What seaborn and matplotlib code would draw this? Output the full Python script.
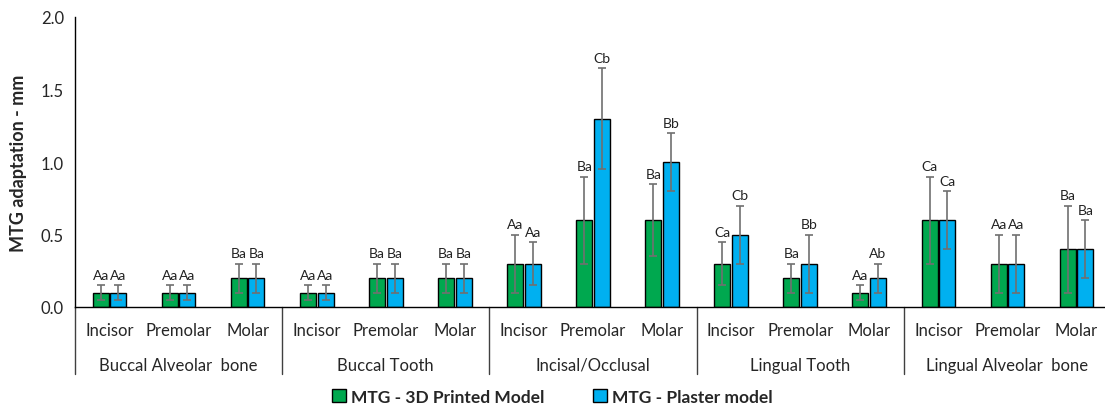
import numpy as np
import pandas as pd
import seaborn as sns
from matplotlib import pyplot as plt

# data
groups = ["Buccal Alveolar  bone", "Buccal Tooth", "Incisal/Occlusal", "Lingual Tooth", "Lingual Alveolar  bone"]
teeth = ["Incisor", "Premolar", "Molar"]
printed_vals = [0.1, 0.1, 0.2, 0.1, 0.2, 0.2, 0.3, 0.6, 0.6, 0.3, 0.2, 0.1, 0.6, 0.3, 0.4]
plaster_vals = [0.1, 0.1, 0.2, 0.1, 0.2, 0.2, 0.3, 1.3, 1.0, 0.5, 0.3, 0.2, 0.6, 0.3, 0.4]
printed_err = [0.05, 0.05, 0.1, 0.05, 0.1, 0.1, 0.2, 0.3, 0.25, 0.15, 0.1, 0.05, 0.3, 0.2, 0.3]
plaster_err = [0.05, 0.05, 0.1, 0.05, 0.1, 0.1, 0.15, 0.35, 0.2, 0.2, 0.2, 0.1, 0.2, 0.2, 0.2]
printed_letters = ["Aa", "Aa", "Ba", "Aa", "Ba", "Ba", "Aa", "Ba", "Ba", "Ca", "Ba", "Aa", "Ca", "Aa", "Ba"]
plaster_letters = ["Aa", "Aa", "Ba", "Aa", "Ba", "Ba", "Aa", "Cb", "Bb", "Cb", "Bb", "Ab", "Ca", "Aa", "Ba"]
series = ["MTG - 3D Printed Model", "MTG - Plaster model"]
colors = ["#00A84F", "#00B0F0"]

cats = [g + "|" + t for g in groups for t in teeth]
df = pd.DataFrame({
    "cat": cats * 2,
    "model": [series[0]] * len(cats) + [series[1]] * len(cats),
    "value": printed_vals + plaster_vals,
})

sns.set_style("white")
plt.rcParams["font.family"] = ["Lato", "DejaVu Sans"]

fig = plt.figure(figsize=(11.05, 4.10), dpi=100)
ax = fig.add_axes([75 / 1105, 102 / 410, 1036 / 1105, 290 / 410])

sns.barplot(data=df, x="cat", y="value", hue="model", order=cats, hue_order=series,
            palette=colors, saturation=1, width=0.51, gap=0.09, edgecolor="black", linewidth=1,
            errorbar=None, legend=False, ax=ax)

# error bars + significance letters
errs = [printed_err, plaster_err]
letters = [printed_letters, plaster_letters]
bar_conts = list(ax.containers)
for i, cont in enumerate(bar_conts):
    for j, bar in enumerate(cont.patches):
        xc = bar.get_x() + bar.get_width() / 2
        h = bar.get_height()
        ax.errorbar(xc, h, yerr=errs[i][j], color="#707070", capsize=3, elinewidth=1.2,
                    capthick=1.2, zorder=5)
        ax.annotate(letters[i][j], (xc, h + errs[i][j]), xytext=(0, 3), textcoords="offset points",
                    ha="center", va="bottom", fontsize=10, color="#222222")

ax.set_xlim(-0.5, len(cats) - 0.5)
ax.set_ylim(0, 2.0)
ax.set_yticks(np.arange(0, 2.01, 0.5))
ax.set_yticklabels([f"{v:.1f}" for v in np.arange(0, 2.01, 0.5)], fontsize=12)
ax.set_xticks(range(len(cats)))
ax.set_xticklabels(teeth * len(groups), fontsize=12)
ax.tick_params(axis="x", length=0, pad=11)
ax.tick_params(axis="y", length=0, pad=8)
ax.set_xlabel("")
ax.set_ylabel("MTG adaptation - mm", fontsize=13, fontweight="bold", labelpad=10)
sns.despine(ax=ax)
for s in ["left", "bottom"]:
    ax.spines[s].set_color("black")
    ax.spines[s].set_linewidth(1)

# group labels and separator lines below the axis
trans = ax.get_xaxis_transform()
for k, g in enumerate(groups):
    ax.text(3 * k + 1, -0.2, g, transform=trans, ha="center", va="center", fontsize=12)
for b in [-0.5, 2.5, 5.5, 8.5, 11.5]:
    ax.plot([b, b], [0, -0.23], transform=trans, color="#404040", lw=1, clip_on=False)

handles = [plt.Rectangle((0, 0), 1, 1, facecolor=c, edgecolor="black") for c in colors]
leg = fig.legend(handles, series, loc="center", bbox_to_anchor=(0.5, 0.03), ncol=2,
                 frameon=False, handlelength=0.8, handleheight=0.8, handletextpad=0.3,
                 columnspacing=2.8, prop={"weight": "bold", "size": 12.5})

fig.savefig("out.png", dpi=100)
